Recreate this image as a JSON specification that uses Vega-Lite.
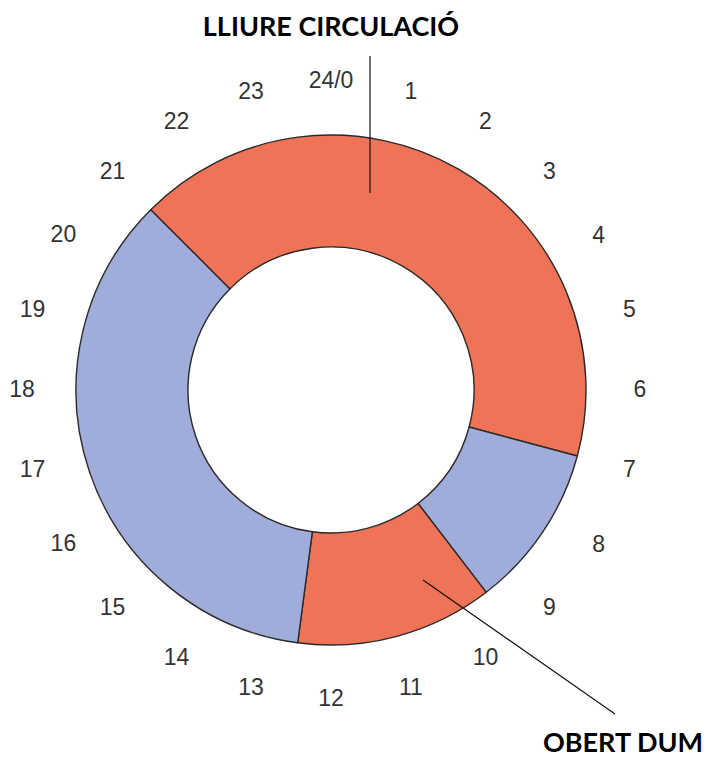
{
  "$schema": "https://vega.github.io/schema/vega-lite/v6.json",
  "width": 600,
  "height": 600,
  "autosize": "none",
  "padding": {"left": 31, "top": 90, "right": 79, "bottom": 68},
  "background": "white",
  "config": {"view": {"stroke": null}},
  "resolve": {"scale": {"theta": "independent"}},
  "datasets": {
    "segments": [
      {"seg": 1, "hours": 10, "mode": "LLIURE CIRCULACIÓ"},
      {"seg": 2, "hours": 2.5, "mode": "TANCAT"},
      {"seg": 3, "hours": 3, "mode": "OBERT DUM"},
      {"seg": 4, "hours": 8.5, "mode": "TANCAT"}
    ],
    "hours": [
      {"h": 0, "label": "24/0"}, {"h": 1, "label": "1"}, {"h": 2, "label": "2"}, {"h": 3, "label": "3"},
      {"h": 4, "label": "4"}, {"h": 5, "label": "5"}, {"h": 6, "label": "6"}, {"h": 7, "label": "7"},
      {"h": 8, "label": "8"}, {"h": 9, "label": "9"}, {"h": 10, "label": "10"}, {"h": 11, "label": "11"},
      {"h": 12, "label": "12"}, {"h": 13, "label": "13"}, {"h": 14, "label": "14"}, {"h": 15, "label": "15"},
      {"h": 16, "label": "16"}, {"h": 17, "label": "17"}, {"h": 18, "label": "18"}, {"h": 19, "label": "19"},
      {"h": 20, "label": "20"}, {"h": 21, "label": "21"}, {"h": 22, "label": "22"}, {"h": 23, "label": "23"}
    ],
    "leaders": [
      {"name": "LLIURE CIRCULACIÓ", "x": 39, "y": 334, "x2": 39, "y2": 197},
      {"name": "OBERT DUM", "x": 92, "y": -190, "x2": 284, "y2": -324}
    ],
    "titles": [
      {"name": "LLIURE CIRCULACIÓ", "x": 0, "y": 362},
      {"name": "OBERT DUM", "x": 292, "y": -354}
    ]
  },
  "layer": [
    {
      "data": {"name": "segments"},
      "mark": {"type": "arc", "outerRadius": 255, "innerRadius": 143, "stroke": "#2a2a2a", "strokeWidth": 1.4},
      "encoding": {
        "theta": {"field": "hours", "type": "quantitative", "stack": true, "scale": {"domain": [0, 24], "range": [-0.7854, 5.4978]}},
        "order": {"field": "seg", "type": "quantitative"},
        "color": {
          "field": "mode", "type": "nominal", "legend": null,
          "scale": {"domain": ["LLIURE CIRCULACIÓ", "OBERT DUM", "TANCAT"], "range": ["#EF7356", "#EF7356", "#A0ACD9"]}
        }
      }
    },
    {
      "data": {"name": "hours"},
      "mark": {"type": "text", "font": "Liberation Sans", "fontSize": 23, "fill": "#333333", "radius": 309, "align": "center", "baseline": "middle"},
      "encoding": {
        "theta": {"field": "h", "type": "quantitative", "stack": null, "scale": {"domain": [0, 24], "range": [0, 6.2832]}},
        "text": {"field": "label", "type": "nominal"}
      }
    },
    {
      "data": {"name": "leaders"},
      "mark": {"type": "rule", "stroke": "#111111", "strokeWidth": 1.2, "clip": false},
      "encoding": {
        "x": {"field": "x", "type": "quantitative", "axis": null, "scale": {"domain": [-300, 300]}},
        "y": {"field": "y", "type": "quantitative", "axis": null, "scale": {"domain": [-300, 300]}},
        "x2": {"field": "x2"},
        "y2": {"field": "y2"}
      }
    },
    {
      "data": {"name": "titles"},
      "mark": {"type": "text", "font": "Lato", "fontWeight": "bold", "fontSize": 27, "fill": "#000000", "align": "center", "baseline": "middle", "clip": false},
      "encoding": {
        "x": {"field": "x", "type": "quantitative", "axis": null, "scale": {"domain": [-300, 300]}},
        "y": {"field": "y", "type": "quantitative", "axis": null, "scale": {"domain": [-300, 300]}},
        "text": {"field": "name", "type": "nominal"}
      }
    }
  ]
}
